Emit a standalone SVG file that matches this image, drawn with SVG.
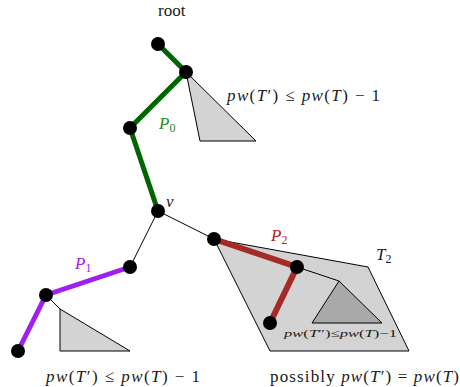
<svg xmlns="http://www.w3.org/2000/svg" width="460" height="387" viewBox="0 0 460 387">
<style>
.tri{fill:#d3d3d3;stroke:#000;stroke-width:1}
.tri2{fill:#a9a9a9;stroke:#000;stroke-width:1}
.thin{stroke:#000;stroke-width:1;fill:none}
.g{stroke:#006400;stroke-width:5;fill:none}
.p{stroke:#a020f0;stroke-width:5;fill:none}
.r{stroke:#a52a2a;stroke-width:6;fill:none}
.n{fill:#000}
.i{font-style:italic}
</style>
<rect width="460" height="387" fill="#fff"/>
<g id="subtrees">
<polygon class="tri" points="186,72 200,141 256,141"/>
<polygon class="tri" points="214,239 368,267 409,351 270,351"/>
<polygon class="tri2" points="339,281 312,323 382,323"/>
<polyline class="thin" points="46,295 60,309"/>
<polygon class="tri" points="60,309 60,351 130,351"/>
</g>
<g id="connectors">
<line class="thin" x1="158" y1="211" x2="130" y2="267"/>
<line class="thin" x1="158" y1="211" x2="214" y2="239"/>
<line class="thin" x1="297" y1="267" x2="339" y2="281"/>
<polyline class="g" points="158,44 186,72 130,128 158,211"/>
<polyline class="p" points="130,267 46,295 18,351"/>
<polyline class="r" points="214,239 297,267 270,323"/>
</g>
<g id="root"><circle class="n" cx="158" cy="44" r="7"/></g>
<g id="a"><circle class="n" cx="186" cy="72" r="7"/></g>
<g id="b"><circle class="n" cx="130" cy="128" r="7"/></g>
<g id="v"><circle class="n" cx="158" cy="211" r="7"/></g>
<g id="c"><circle class="n" cx="214" cy="239" r="7"/></g>
<g id="d"><circle class="n" cx="297" cy="267" r="7"/></g>
<g id="e"><circle class="n" cx="270" cy="323" r="7"/></g>
<g id="f"><circle class="n" cx="130" cy="267" r="7"/></g>
<g id="g"><circle class="n" cx="46" cy="295" r="7"/></g>
<g id="h"><circle class="n" cx="18" cy="351" r="7"/></g>
<g id="labels">
<text x="158" y="16" font-family="Liberation Serif" font-size="17" fill="#1a1a1a">root</text>
<text x="166" y="207" font-family="Liberation Serif" font-size="17" fill="#1a1a1a" font-style="italic">v</text>
<text x="159" y="129" font-family="Liberation Serif" font-size="17" fill="#228b22"><tspan font-style="italic">P</tspan><tspan font-size="12" dy="3">0</tspan></text>
<text x="75" y="269" font-family="Liberation Serif" font-size="17" fill="#a020f0"><tspan font-style="italic">P</tspan><tspan font-size="12" dy="3">1</tspan></text>
<text x="271" y="241" font-family="Liberation Serif" font-size="17" fill="#b22222"><tspan font-style="italic">P</tspan><tspan font-size="12" dy="3">2</tspan></text>
<text x="376" y="260" font-family="Liberation Serif" font-size="17" fill="#1a1a1a"><tspan font-style="italic">T</tspan><tspan font-size="12" dy="3">2</tspan></text>
<text x="227" y="101" font-family="Liberation Serif" font-size="17" fill="#1a1a1a" textLength="153" lengthAdjust="spacing"><tspan font-style="italic">pw</tspan>(<tspan font-style="italic">T</tspan>′) ≤ <tspan font-style="italic">pw</tspan>(<tspan font-style="italic">T</tspan>) − 1</text>
<text x="46" y="382" font-family="Liberation Serif" font-size="17" fill="#1a1a1a" textLength="154" lengthAdjust="spacing"><tspan font-style="italic">pw</tspan>(<tspan font-style="italic">T</tspan>′) ≤ <tspan font-style="italic">pw</tspan>(<tspan font-style="italic">T</tspan>) − 1</text>
<text x="270" y="382" font-family="Liberation Serif" font-size="17" fill="#1a1a1a" textLength="189" lengthAdjust="spacing">possibly <tspan font-style="italic">pw</tspan>(<tspan font-style="italic">T</tspan>′) = <tspan font-style="italic">pw</tspan>(<tspan font-style="italic">T</tspan>)</text>
<text x="284" y="337" font-family="Liberation Serif" font-size="11" fill="#1a1a1a" textLength="113" lengthAdjust="spacingAndGlyphs"><tspan font-style="italic">pw</tspan>(<tspan font-style="italic">T</tspan>″)≤<tspan font-style="italic">pw</tspan>(<tspan font-style="italic">T</tspan>)−1</text>
</g>
</svg>
